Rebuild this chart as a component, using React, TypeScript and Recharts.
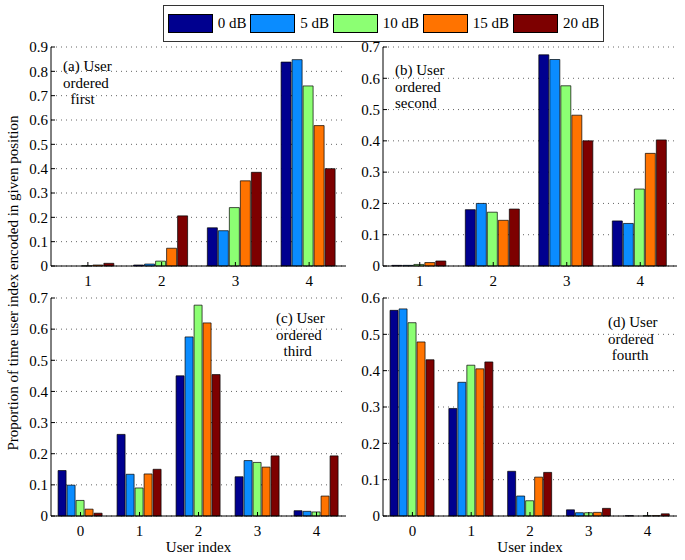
import React from "react";
import { BarChart, Bar, XAxis, YAxis, CartesianGrid } from "recharts";

const FONT = '"Liberation Serif", "Times New Roman", serif';

const levels = ["0 dB", "5 dB", "10 dB", "15 dB", "20 dB"];
const colors = ["#00008f", "#0a8cff", "#8cff73", "#ff7300", "#7d0000"];

const usersTop = ["1", "2", "3", "4"];
const usersBottom = ["0", "1", "2", "3", "4"];

// rows: SNR level, columns: user index
const orderedFirst = [
  [0, 0.004, 0.157, 0.838],
  [0, 0.008, 0.145, 0.848],
  [0.001, 0.02, 0.24, 0.74],
  [0.004, 0.073, 0.35, 0.577],
  [0.011, 0.206, 0.385, 0.4],
];
const orderedSecond = [
  [0.002, 0.18, 0.675, 0.144],
  [0.002, 0.2, 0.66, 0.136],
  [0.005, 0.172, 0.576, 0.246],
  [0.011, 0.146, 0.482, 0.36],
  [0.016, 0.182, 0.4, 0.403],
];
const orderedThird = [
  [0.146, 0.262, 0.45, 0.126, 0.017],
  [0.099, 0.134, 0.575, 0.178, 0.015],
  [0.05, 0.09, 0.677, 0.172, 0.013],
  [0.022, 0.135, 0.62, 0.157, 0.064],
  [0.009, 0.15, 0.454, 0.193, 0.193],
];
const orderedFourth = [
  [0.566, 0.296, 0.123, 0.017, 0.001],
  [0.57, 0.368, 0.055, 0.009, 0],
  [0.532, 0.415, 0.042, 0.009, 0.001],
  [0.479, 0.405, 0.107, 0.01, 0.001],
  [0.43, 0.424, 0.12, 0.021, 0.006],
];

const ticks09 = [0, 0.1, 0.2, 0.3, 0.4, 0.5, 0.6, 0.7, 0.8, 0.9];
const ticks07 = [0, 0.1, 0.2, 0.3, 0.4, 0.5, 0.6, 0.7];
const ticks06 = [0, 0.1, 0.2, 0.3, 0.4, 0.5, 0.6];

const tickStyle = { fill: "#000", fontSize: 15, fontFamily: FONT };

function Panel({
  left,
  top,
  width,
  height,
  users,
  values,
  yTicks,
}: {
  left: number;
  top: number;
  width: number;
  height: number;
  users: string[];
  values: number[][];
  yTicks: number[];
}) {
  const yMax = yTicks[yTicks.length - 1];
  const data = users.map((u, i) => {
    const row: Record<string, number | string> = { user: u };
    levels.forEach((_, k) => {
      row["s" + k] = values[k][i];
    });
    return row;
  });

  return (
    <div style={{ position: "absolute", left, top, width, height }}>
      <BarChart
        width={width}
        height={height}
        data={data}
        margin={{ top: 7, right: 4, left: 0, bottom: 0 }}
        barCategoryGap="12%"
        barGap={1}
      >
        <CartesianGrid vertical={false} stroke="#666" strokeDasharray="1 4" />
        <XAxis
          dataKey="user"
          height={24}
          stroke="#000"
          tickSize={-4}
          tickMargin={13}
          tick={tickStyle}
        />
        <XAxis
          xAxisId="top"
          orientation="top"
          dataKey="user"
          height={0}
          stroke="#000"
          tickSize={-4}
          tick={false}
        />
        <YAxis
          domain={[0, yMax]}
          ticks={yTicks}
          interval={0}
          width={51}
          stroke="#000"
          tickSize={-4}
          tickMargin={7}
          tick={tickStyle}
        />
        <YAxis
          yAxisId="r"
          orientation="right"
          domain={[0, yMax]}
          ticks={yTicks}
          interval={0}
          width={0}
          stroke="#000"
          tickSize={-4}
          tick={false}
        />
        {levels.map((l, k) => (
          <Bar
            key={l}
            dataKey={"s" + k}
            name={l}
            fill={colors[k]}
            stroke="#000"
            strokeWidth={0.7}
            isAnimationActive={false}
          />
        ))}
      </BarChart>
    </div>
  );
}

function Note({ left, top, lines }: { left: number; top: number; lines: string[] }) {
  return (
    <div
      style={{
        position: "absolute",
        left,
        top,
        fontFamily: FONT,
        fontSize: 15,
        lineHeight: "16.5px",
        whiteSpace: "pre",
        color: "#000",
      }}
    >
      {lines.map((t) => (
        <div key={t}>{t}</div>
      ))}
    </div>
  );
}

export default function App() {
  return (
    <div
      style={{
        position: "absolute",
        left: 0,
        top: 0,
        width: 685,
        height: 560,
        background: "#fff",
        fontFamily: FONT,
      }}
    >
      {/* legend */}
      <div
        style={{
          position: "absolute",
          left: 163,
          top: 5,
          width: 441,
          height: 37,
          boxSizing: "border-box",
          border: "1px solid #333",
          display: "flex",
          alignItems: "center",
          justifyContent: "space-evenly",
          fontSize: 15,
        }}
      >
        {levels.map((l, k) => (
          <div key={l} style={{ display: "flex", alignItems: "center" }}>
            <div
              style={{
                width: 45,
                height: 19,
                boxSizing: "border-box",
                border: "1px solid #000",
                background: colors[k],
                marginRight: 5,
              }}
            />
            <span>{l}</span>
          </div>
        ))}
      </div>

      <Panel left={0} top={40} width={350} height={250} users={usersTop} values={orderedFirst} yTicks={ticks09} />
      <Panel left={332} top={40} width={349} height={250} users={usersTop} values={orderedSecond} yTicks={ticks07} />
      <Panel left={0} top={291} width={350} height={249} users={usersBottom} values={orderedThird} yTicks={ticks07} />
      <Panel left={332} top={291} width={349} height={249} users={usersBottom} values={orderedFourth} yTicks={ticks06} />

      <Note left={63} top={58} lines={["(a) User", "ordered", "  first"]} />
      <Note left={395} top={62} lines={["(b) User", "ordered", "second"]} />
      <Note left={276} top={310} lines={["(c) User", "ordered", "  third"]} />
      <Note left={608} top={314} lines={["(d) User", "ordered", " fourth"]} />

      <svg width={685} height={560} style={{ position: "absolute", left: 0, top: 0, pointerEvents: "none" }}>
        <text
          x={13}
          y={283}
          transform="rotate(-90 13 283)"
          textAnchor="middle"
          dominantBaseline="central"
          fontFamily={FONT}
          fontSize={15}
          fill="#000"
        >
          Proportion of time user index encoded in given position
        </text>
        <text x={198.5} y={552} textAnchor="middle" fontFamily={FONT} fontSize={15} fill="#000">
          User index
        </text>
        <text x={530} y={552} textAnchor="middle" fontFamily={FONT} fontSize={15} fill="#000">
          User index
        </text>
      </svg>
    </div>
  );
}
